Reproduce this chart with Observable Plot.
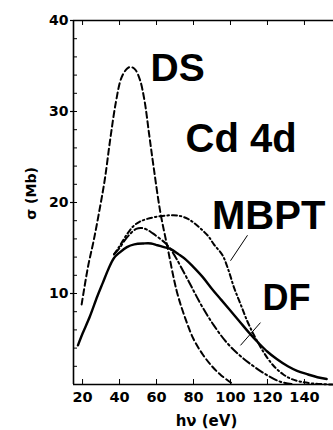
<!DOCTYPE html>
<html>
<head>
<meta charset="utf-8">
<script src="https://cdn.jsdelivr.net/npm/d3@7"></script>
<script src="https://cdn.jsdelivr.net/npm/@observablehq/plot@0.6"></script>
<style>
  html, body { margin: 0; padding: 0; background: #fff; }
  #chart { width: 333px; height: 430px; overflow: hidden; }
</style>
</head>
<body>
<div id="chart"></div>
<script>
// ---- data ----
const dsX = [19.5, 23, 26, 29, 32, 35, 38, 41, 44, 46, 48.5, 51, 53.5, 56, 58.5, 62, 66, 71, 75.5, 80, 85, 90, 95, 101];
const dsY = [8.8, 13, 15.8, 19, 22.5, 27, 31, 33.7, 34.7, 34.9, 34.6, 33.5, 31.2, 27.5, 23.8, 19, 15, 10.2, 7.3, 5, 3.3, 2.0, 1.0, 0.1];

const solidX = [17.5, 20, 24, 28, 31, 34, 37, 40, 44, 48, 53, 57, 60.5, 64, 67.5, 72, 76, 80, 85, 90, 95, 100, 105, 110, 115, 120, 125, 131, 136, 142, 147, 152];
const solidY = [4.3, 5.6, 7.5, 9.7, 11.2, 12.7, 13.9, 14.5, 15.1, 15.4, 15.5, 15.5, 15.3, 15.1, 14.9, 14.3, 13.7, 12.9, 11.8, 10.5, 9.3, 8.1, 6.9, 5.7, 4.6, 3.6, 2.8, 2.0, 1.5, 1.1, 0.8, 0.6];

const dfX = [37, 40, 43, 46, 49, 52, 55, 58, 62, 65, 67.5, 70, 73, 78, 84, 91, 98, 105, 112.5, 120, 127, 133];
const dfY = [14.3, 15.0, 15.9, 16.6, 17.1, 17.2, 17.0, 16.6, 16.0, 15.5, 14.9, 14.1, 13.0, 11.1, 8.8, 6.5, 4.6, 3.2, 2.0, 1.0, 0.3, 0.05];

const mbptX = [37, 40, 44, 47.5, 51, 55, 62, 69, 73, 77, 80, 84, 88, 91, 95.7, 99, 102, 105.5, 109, 112.5, 116, 120, 124, 128.6, 133, 138, 145, 155];
const mbptY = [14.3, 15.2, 16.5, 17.4, 17.9, 18.2, 18.5, 18.6, 18.5, 18.2, 17.8, 17.1, 16.3, 15.4, 14.2, 12.5, 10.6, 8.8, 7.0, 5.5, 4.2, 2.9, 1.9, 1.1, 0.6, 0.3, 0.1, 0.0];

const xTicks = [20, 40, 60, 80, 100, 120, 140];
const yMajor = [10, 20, 30, 40];
const yMinor = [2, 4, 6, 8, 10, 12, 14, 16, 18, 20, 22, 24, 26, 28, 30, 32, 34, 36, 38];

const labelTexts = ["DS", "Cd 4d", "MBPT", "DF"];
const labelX = [56.8, 75.7, 90.0, 117.3];
const labelY = [33.3, 25.6, 17.1, 8.2];
const labelSize = [39, 40, 40, 36];

const leaderX1 = [109.2, 116.2];
const leaderY1 = [16.4, 6.8];
const leaderX2 = [100.0, 105.4];
const leaderY2 = [13.6, 4.3];

const xTitle = "hν (eV)";
const yTitle = "σ (Mb)";

// ---- build tables ----
const zip = (xs, ys) => xs.map((x, i) => ({x, y: ys[i]}));
const ds = zip(dsX, dsY);
const solid = zip(solidX, solidY);
const df = zip(dfX, dfY);
const mbpt = zip(mbptX, mbptY);
const labels = labelTexts.map((t, i) => ({t, x: labelX[i], y: labelY[i], s: labelSize[i]}));
const leaders = leaderX1.map((x1, i) => ({x1, y1: leaderY1[i], x2: leaderX2[i], y2: leaderY2[i]}));

const xMin = 15.1, xMax = 155.7;
const W = 333, H = 430, mT = 20, mB = 46, mL = 73, mR = 0;
const innerH = H - mT - mB, innerW = W - mL - mR;
const axisFont = "'DejaVu Sans', Verdana, sans-serif";
const labelFont = "'Liberation Sans', Arial, Helvetica, sans-serif";

const plot = Plot.plot({
  width: W,
  height: H,
  marginTop: mT,
  marginBottom: mB,
  marginLeft: mL,
  marginRight: mR,
  style: {fontFamily: labelFont, color: "#000", background: "#fff", overflow: "visible"},
  x: {domain: [xMin, xMax], axis: null},
  y: {domain: [0, 40], axis: null},
  marks: [
    Plot.ruleY([0, 40], {stroke: "#000", strokeWidth: 1.6}),
    Plot.ruleX([xMin], {stroke: "#000", strokeWidth: 1.6}),
    Plot.axisY({ticks: yMajor, tickSize: 3, tickPadding: 2, fontSize: 14, fontWeight: "bold", fontFamily: axisFont, label: null, strokeWidth: 1.2}),
    Plot.tickY(yMinor, {y: d => d, insetRight: innerW - 4, stroke: "#000", strokeWidth: 1}),
    Plot.tickX(xTicks, {x: d => d, insetTop: innerH - 5, stroke: "#000", strokeWidth: 1}),
    Plot.tickX(xTicks, {x: d => d, insetBottom: innerH - 5, stroke: "#000", strokeWidth: 1}),
    Plot.axisX({ticks: xTicks, tickSize: 0, tickPadding: 7, fontSize: 14.5, fontWeight: "bold", fontFamily: axisFont, label: null}),
    Plot.line(ds, {x: "x", y: "y", curve: "catmull-rom", stroke: "#000", strokeWidth: 2, strokeDasharray: "6,3.5"}),
    Plot.line(df, {x: "x", y: "y", curve: "catmull-rom", stroke: "#000", strokeWidth: 2, strokeDasharray: "8,3,2,3"}),
    Plot.line(mbpt, {x: "x", y: "y", curve: "catmull-rom", stroke: "#000", strokeWidth: 2, strokeDasharray: "5,3,1.5,3"}),
    Plot.line(solid, {x: "x", y: "y", curve: "catmull-rom", stroke: "#000", strokeWidth: 2.4}),
    Plot.link(leaders, {x1: "x1", y1: "y1", x2: "x2", y2: "y2", stroke: "#000", strokeWidth: 1}),
    Plot.text(labels, {x: "x", y: "y", text: "t", fontSize: d => d.s, fontWeight: "bold", textAnchor: "start", lineAnchor: "bottom", fill: "#000"}),
    Plot.text([yTitle], {x: xMin, y: 21, text: d => d, rotate: -90, dx: -42, fontSize: 14, fontWeight: "bold", fontFamily: axisFont, fill: "#000"}),
    Plot.text([xTitle], {x: 87, frameAnchor: "bottom", text: d => d, dy: 41, lineAnchor: "bottom", fontSize: 15, fontWeight: "bold", fontFamily: axisFont, fill: "#000"})
  ]
});
document.getElementById("chart").append(plot);
</script>
</body>
</html>
